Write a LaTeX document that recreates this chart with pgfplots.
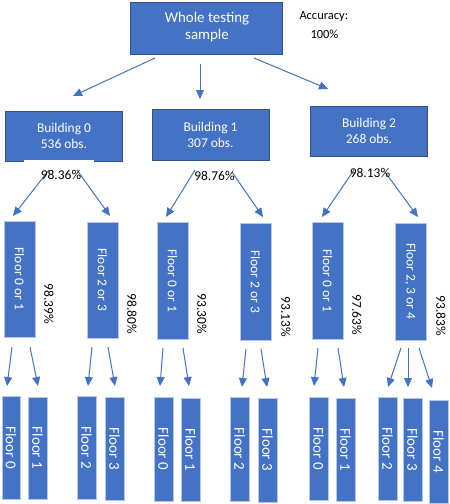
\documentclass[border=0pt]{standalone}
\usepackage{pgfplots}
\pgfplotsset{compat=1.18}
\usepackage{fontspec}
\setmainfont{Carlito}
\usetikzlibrary{arrows.meta}
\definecolor{bx}{HTML}{4472C4}
\definecolor{bxd}{HTML}{2F528F}
\definecolor{bxl}{HTML}{B4C7E7}
\newcommand\bx[5][bxd]{\addplot[fill=bx,draw=#1,line width=0.8pt] coordinates {(#2,#3) (#4,#3) (#4,#5) (#2,#5)} -- cycle;}
\newcommand\ar[4]{\addplot[draw=bx,line width=1pt,-{Triangle[length=9pt,width=8pt]}] coordinates {(#1,#2) (#3,#4)};}
\begin{document}
\begin{tikzpicture}
\begin{axis}[
  scale only axis, width=450bp, height=504bp,
  xmin=0, xmax=450, ymin=0, ymax=504, y dir=reverse,
  axis lines=none, clip=false,
]
\addplot[draw=none] coordinates {(0,0) (450,504)};
% top
\bx{130}{2}{282}{54}
\node[white,align=center,font=\fontsize{15}{18}\selectfont] at (axis cs:207,27) {Whole testing\\sample};
\node[anchor=west,font=\fontsize{12.5}{15}\selectfont] at (axis cs:296,17) {Accuracy:};
\node[anchor=west,font=\fontsize{12.5}{15}\selectfont] at (axis cs:307,34) {100\%};
% arrows top
\ar{155}{58}{73}{96}
\ar{200}{64}{200}{99}
\ar{254}{58}{328}{89}
% buildings
\bx{5}{111}{122}{161}
\bx{152}{109}{269}{160}
\bx{310}{106}{427}{156}
\addplot[fill=white,draw=none] coordinates {(24,159.5) (94,159.5) (94,162) (24,162)} -- cycle;
\node[white,align=center,font=\fontsize{13.5}{16}\selectfont] at (axis cs:64,136) {Building 0\\536 obs.};
\node[white,align=center,font=\fontsize{13.5}{16}\selectfont] at (axis cs:210.5,135) {Building 1\\307 obs.};
\node[white,align=center,font=\fontsize{13.5}{16}\selectfont] at (axis cs:369,131) {Building 2\\268 obs.};
% arrows to floor groups
\ar{49}{170}{13}{216}
\ar{77}{170}{110}{216}
\ar{195}{170}{166}{217}
\ar{232}{172}{263}{217}
\ar{354}{170}{322}{217}
\ar{385}{172}{418}{217}
\node[font=\fontsize{13.5}{16}\selectfont] at (axis cs:61,175) {98.36\%};
\node[font=\fontsize{13.5}{16}\selectfont] at (axis cs:214.5,176) {98.76\%};
\node[font=\fontsize{13.5}{16}\selectfont] at (axis cs:370,173) {98.13\%};
% level 2 boxes
\bx[bxl]{4}{221}{35}{337}
\bx[bxl]{87}{222}{118}{338}
\bx[bxl]{157}{222}{188}{339}
\bx[bxl]{240}{223}{271}{340}
\bx[bxl]{312}{222}{343}{339}
\bx[bxl]{395}{223}{426}{340}
\begin{scope}[every node/.style={white,rotate=-90,font=\fontsize{13.5}{16}\selectfont}]
\node at (axis cs:19.5,279) {Floor 0 or 1};
\node at (axis cs:102.5,280) {Floor 2 or 3};
\node at (axis cs:172.5,280.5) {Floor 0 or 1};
\node at (axis cs:255.5,281.5) {Floor 2 or 3};
\node at (axis cs:327.5,280.5) {Floor 0 or 1};
\node at (axis cs:410.5,281.5) {Floor 2, 3 or 4};
\end{scope}
\begin{scope}[every node/.style={black,rotate=-90,font=\fontsize{13.5}{16}\selectfont}]
\node at (axis cs:49,304) {98.39\%};
\node at (axis cs:132,314) {98.80\%};
\node at (axis cs:202,314) {93.30\%};
\node at (axis cs:286,317) {93.13\%};
\node at (axis cs:357,315) {97.63\%};
\node at (axis cs:441,316) {93.83\%};
\end{scope}
% level 3 arrows
\ar{12}{347}{7}{386}
\ar{30}{347}{38}{386}
\ar{92}{347}{88}{386}
\ar{108}{347}{115}{386}
\ar{163}{348}{160}{386}
\ar{183}{348}{189}{386}
\ar{246}{349}{242}{387}
\ar{261}{349}{267}{387}
\ar{318}{348}{314}{386}
\ar{338}{348}{344}{387}
\ar{401}{348}{388}{387}
\ar{408}{348}{408}{387}
\ar{419}{348}{432}{388}
% level 3 boxes
\bx[bxl]{2}{396}{20}{499}
\bx[bxl]{28}{397}{47}{499}
\bx[bxl]{77}{396}{96}{499}
\bx[bxl]{105}{397}{124}{500}
\bx[bxl]{154}{397}{173}{501}
\bx[bxl]{181}{398}{200}{501}
\bx[bxl]{230}{397}{249}{501}
\bx[bxl]{258}{398}{277}{502}
\bx[bxl]{309}{397}{328}{500}
\bx[bxl]{336}{398}{355}{501}
\bx[bxl]{378}{397}{397}{500}
\bx[bxl]{403}{398}{422}{501}
\bx[bxl]{429}{400}{448}{503}
\begin{scope}[every node/.style={white,rotate=-90,font=\fontsize{15}{18}\selectfont}]
\node at (axis cs:11,447.5) {Floor 0};
\node at (axis cs:37.5,448) {Floor 1};
\node at (axis cs:86.5,447.5) {Floor 2};
\node at (axis cs:114.5,448.5) {Floor 3};
\node at (axis cs:163.5,449) {Floor 0};
\node at (axis cs:190.5,449.5) {Floor 1};
\node at (axis cs:239.5,449) {Floor 2};
\node at (axis cs:267.5,450) {Floor 3};
\node at (axis cs:318.5,448.5) {Floor 0};
\node at (axis cs:345.5,449.5) {Floor 1};
\node at (axis cs:387.5,448.5) {Floor 2};
\node at (axis cs:412.5,449.5) {Floor 3};
\node at (axis cs:438.5,451.5) {Floor 4};
\end{scope}
\end{axis}
\end{tikzpicture}
\end{document}
